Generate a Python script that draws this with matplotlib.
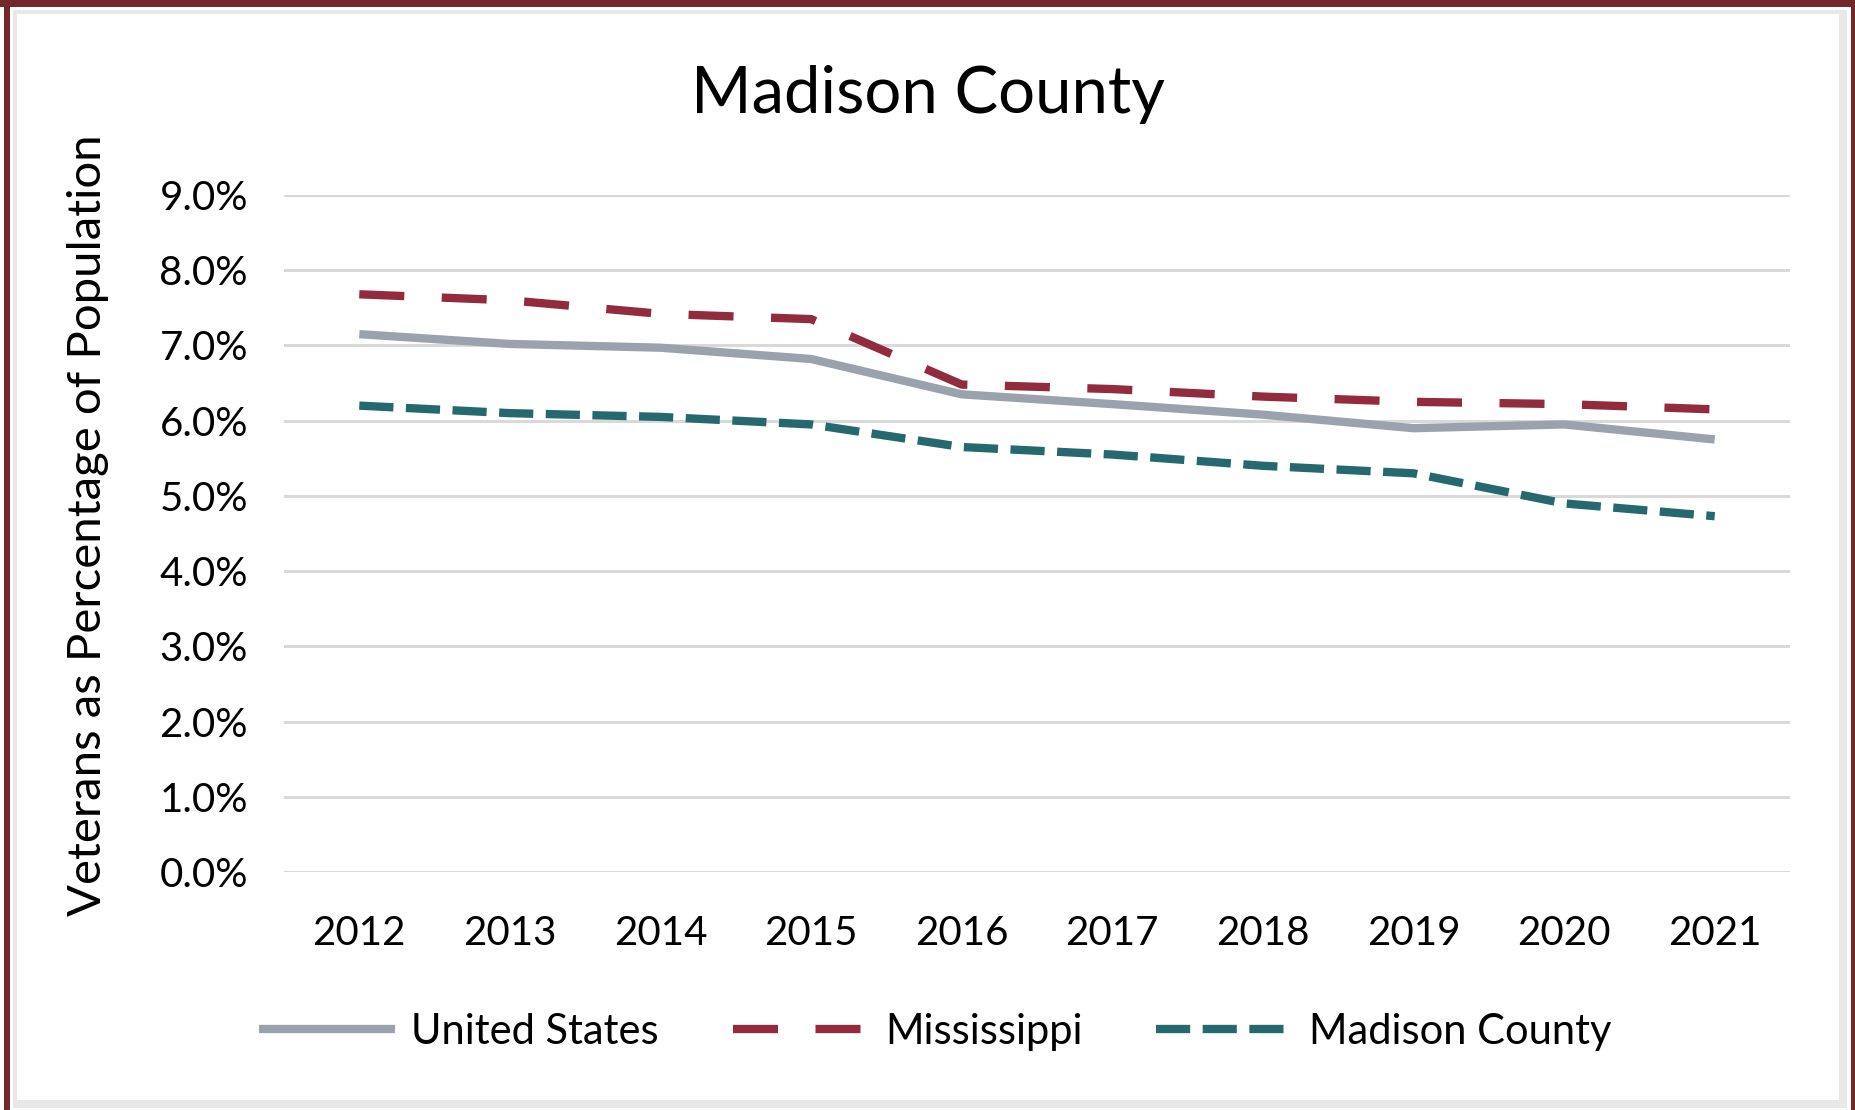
import matplotlib
matplotlib.use("Agg")
import matplotlib.pyplot as plt
from matplotlib.patches import Rectangle

# data
years = ["2012", "2013", "2014", "2015", "2016", "2017", "2018", "2019", "2020", "2021"]
united_states = [7.15, 7.02, 6.97, 6.82, 6.35, 6.22, 6.08, 5.90, 5.95, 5.75]
mississippi = [7.68, 7.60, 7.42, 7.35, 6.48, 6.42, 6.32, 6.25, 6.22, 6.15]
madison_county = [6.20, 6.10, 6.05, 5.95, 5.65, 5.55, 5.40, 5.30, 4.90, 4.73]
y_ticks = [0, 1, 2, 3, 4, 5, 6, 7, 8, 9]

W, H = 1855, 1110
plt.rcParams['font.family'] = ['Lato', 'DejaVu Sans']

fig = plt.figure(figsize=(W / 100, H / 100), dpi=100)
fig.patch.set_facecolor("white")


def box(x0, y0, x1, y1, color):
    # pixel coords measured from top-left of the picture
    fig.add_artist(Rectangle((x0 / W, 1 - y1 / H), (x1 - x0) / W, (y1 - y0) / H,
                             transform=fig.transFigure, facecolor=color,
                             edgecolor="none", zorder=0))


# frame: dark red outer border and light gray inner strips
red = "#73282B"
gray = "#E8E8E8"
box(0, 0, W, 7, red)
box(4, 0, 10, H, red)
box(1851, 0, W, H, red)
box(13, 10, 1843, 14, gray)
box(13, 10, 17, 1108, gray)
box(1839, 10, 1847, 1104, gray)
box(13, 1100, 1847, 1108, gray)

ax = fig.add_axes([284 / W, 1 - 872 / H, (1790 - 284) / W, (872 - 195) / H])
ax.set_facecolor("none")

x = list(range(len(years)))
lw = 6
ax.plot(x, united_states, color="#9AA3AD", lw=lw, solid_capstyle="butt",
        label="United States", zorder=3)
ax.plot(x, mississippi, color="#922B3E", lw=lw, dashes=(5.4, 4.5),
        dash_capstyle="butt", label="Mississippi", zorder=4)
ax.plot(x, madison_county, color="#25696E", lw=lw, dashes=(4.1, 1.5),
        dash_capstyle="butt", label="Madison County", zorder=4)

ax.set_xlim(-0.5, len(years) - 0.5)
ax.set_ylim(0, 9)
ax.set_yticks(y_ticks)
ax.set_yticklabels([f"{v:.1f}%" for v in y_ticks])
ax.set_xticks(x)
ax.set_xticklabels(years)
ax.grid(axis="y", color="#D9D9D9", lw=2.2)
ax.set_axisbelow(True)
for s in ax.spines.values():
    s.set_visible(False)
ax.tick_params(axis="both", length=0, labelsize=29, colors="black")
ax.tick_params(axis="y", pad=26)
ax.tick_params(axis="x", pad=31)

fig.text(928 / W, 1 - 94 / H, "Madison County", fontsize=47,
         ha="center", va="center")
fig.text(88 / W, 1 - 525 / H, "Veterans as Percentage of Population",
         fontsize=34, rotation=90, ha="center", va="center")

fig.legend(loc="center", bbox_to_anchor=(935 / W, 1 - 1032 / H), ncol=3,
           frameon=False, fontsize=30, handlelength=3.26, handletextpad=0.4,
           columnspacing=1.77)

fig.savefig("out.png", dpi=100)
